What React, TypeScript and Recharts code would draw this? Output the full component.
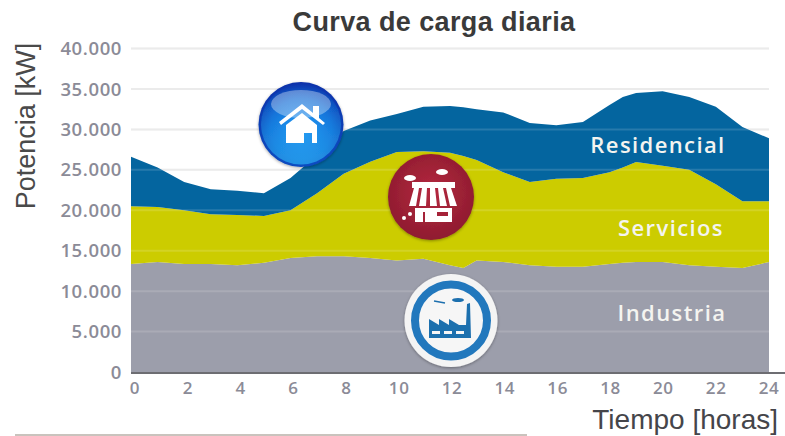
import React from "react";
import { AreaChart, Area, XAxis, YAxis, ReferenceLine, CartesianGrid } from "recharts";

const hours = [0,1,2,3,4,5,6,7,8,9,10,11,12,12.5,13,14,15,16,17,18,18.5,19,20,21,22,23,24];
const industria = [13350,13600,13350,13350,13200,13500,14100,14300,14300,14100,13800,14000,13200,12850,13800,13600,13200,13000,13000,13350,13500,13600,13600,13200,13000,12850,13600];
const servicios = [7150,6800,6650,6150,6200,5800,5900,7800,10200,11900,13400,13300,13900,13850,12400,11100,10300,10900,11000,11350,11800,12360,11900,11800,10200,8250,7500];
const residencial = [6100,4900,3500,3100,3000,2800,4000,4700,5300,5100,4700,5500,5800,6050,6300,7400,7300,6600,6900,8300,8700,8540,9200,9000,9600,9200,7800];
const yTicks = [0,5000,10000,15000,20000,25000,30000,35000,40000];
const xTicks = [0,2,4,6,8,10,12,14,16,18,20,22,24];
const data = hours.map((h,i)=>({h, industria:industria[i], servicios:servicios[i], residencial:residencial[i]}));
const fmt = (v:number)=> v===0 ? "0" : `${v/1000}.000`;
const yTickStyle = { fill:"#8b8b97", fontSize:18.5, fontWeight:600, fontFamily:"'Open Sans', sans-serif", letterSpacing:0.6 };
const serviceLabel = { fill:"#f4f4f0", fontSize:22, fontWeight:600, fontFamily:"'Open Sans', sans-serif", letterSpacing:1.4 };

function XTick(props:any) {
  const { x, y, payload } = props;
  const shift = 4 * (1 - payload.value / 24);
  return (
    <text x={x + shift} y={y} dy={14} textAnchor="middle" fill="#8b8b97" fontSize={17} fontWeight={600} fontFamily="'Open Sans', sans-serif" letterSpacing={0.6}>{payload.value}</text>
  );
}

function Overlay() {
  return (
    <svg width={785} height={436} style={{position:"absolute",left:0,top:0,pointerEvents:"none"}}>
      <defs>
        <radialGradient id="homeG" cx="50%" cy="55%" r="55%">
          <stop offset="0%" stopColor="#1f8cf0"/><stop offset="65%" stopColor="#0b5fd0"/><stop offset="100%" stopColor="#0a2fa8"/>
        </radialGradient>
        <linearGradient id="homeB" x1="0" y1="0" x2="0" y2="1">
          <stop offset="0%" stopColor="#2fc0ff" stopOpacity="0"/><stop offset="100%" stopColor="#38c8ff"/>
        </linearGradient>
        <radialGradient id="shopG" cx="50%" cy="45%" r="55%">
          <stop offset="0%" stopColor="#b5283f"/><stop offset="100%" stopColor="#8f1c30"/>
        </radialGradient>
        <filter id="sh" x="-20%" y="-20%" width="140%" height="140%">
          <feDropShadow dx={0} dy={1} stdDeviation={1.5} floodColor="#000" floodOpacity={0.35}/>
        </filter>
      </defs>
      <line x1={131} x2={785} y1={373} y2={373} stroke="#6d6d72" strokeWidth={2}/>
      <line x1={15} x2={527} y1={435} y2={435} stroke="#c9c3bd" strokeWidth={2}/>
      <text x={434} y={31} textAnchor="middle" fontFamily="'Liberation Sans', sans-serif" fontWeight={700} fontSize={27} letterSpacing={0.4} fill="#3a3a3a">Curva de carga diaria</text>
      <text x={778} y={429} textAnchor="end" fontFamily="'Liberation Sans', sans-serif" fontSize={28} fill="#45454a">Tiempo [horas]</text>
      <text transform="translate(35,126) rotate(-90)" textAnchor="middle" fontFamily="'Liberation Sans', sans-serif" fontSize={27} fill="#4a4a4a">Potencia [kW]</text>
      <text x={658} y={153} textAnchor="middle" {...serviceLabel}>Residencial</text>
      <text x={671} y={236} textAnchor="middle" {...serviceLabel}>Servicios</text>
      <text x={672} y={321} textAnchor="middle" {...serviceLabel}>Industria</text>

      <g filter="url(#sh)">
        <circle cx={301} cy={124.5} r={42.5} fill="url(#homeG)"/>
        <circle cx={301} cy={124.5} r={40} fill="url(#homeB)" opacity={0.55}/>
        <ellipse cx={301} cy={104} rx={30} ry={14} fill="#ffffff" opacity={0.35}/>
        <path d="M279 122 L302 104 L313 113 L313 106 L319 106 L319 118 L325 123 L323 125 L302 109 L281 125 Z" fill="#fff"/>
        <path d="M286 125 L302 113 L317 125 L317 143 L312 143 L312 133 L304 133 L304 143 L286 143 Z" fill="#fff"/>
      </g>
      <g filter="url(#sh)">
        <circle cx={431} cy={197} r={43} fill="url(#shopG)"/>
        <ellipse cx={410} cy={178} rx={6} ry={3} fill="#fff"/>
        <ellipse cx={442} cy={172} rx={6} ry={3} fill="#fff"/>
        <rect x={412} y={182} width={43} height={6} fill="#fff"/>
        <path d="M414 188 L409 206 L416 206 L419 188 Z M422 188 L419 206 L426 206 L427 188 Z M430 188 L430 206 L437 206 L435 188 Z M438 188 L440 206 L447 206 L443 188 Z M446 188 L450 206 L457 206 L451 188 Z" fill="#fff"/>
        <rect x={415} y={208} width={37} height={14} fill="#fff"/>
        <rect x={437} y={212} width={11} height={4} fill="#a52238"/>
        <rect x={423} y={212} width={2} height={10} fill="#a52238"/>
        <circle cx={404} cy={218} r={2} fill="#fff"/><circle cx={410} cy={214} r={2} fill="#fff"/>
      </g>
      <g filter="url(#sh)">
        <circle cx={451} cy={320.5} r={46.5} fill="#f4f4f4"/>
        <circle cx={451} cy={320.5} r={36} fill="#f6f6f6" stroke="#2378bd" strokeWidth={8}/>
        <path d="M429 338 L429 319 L439 325 L439 319 L449 325 L449 319 L459 325 L466 325 L467 304 L470 303 L471 338 Z" fill="#1f6fae"/>
        <rect x={432} y={331} width={8} height={3} fill="#f6f6f6"/>
        <rect x={444} y={331} width={8} height={3} fill="#f6f6f6"/>
        <rect x={456} y={331} width={8} height={3} fill="#f6f6f6"/>
        <ellipse cx={458} cy={300} rx={6} ry={2} fill="#1f6fae"/>
        <path d="M434 301 L445 303" stroke="#1f6fae" strokeWidth={1.5}/>
      </g>
    </svg>
  );
}

export default function App() {
  return (
    <div style={{position:"absolute",left:0,top:0,width:785,height:436,background:"#fff"}}>
      <AreaChart width={785} height={436} data={data} margin={{top:48.5,right:16,bottom:0,left:0}}>
        <CartesianGrid vertical={false} stroke="#e8e8e8" strokeWidth={2}/>
        <XAxis dataKey="h" type="number" domain={[0,24]} ticks={xTicks} axisLine={false} tickLine={false} tick={<XTick/>} interval={0} height={64}/>
        <YAxis type="number" domain={[0,40000]} ticks={yTicks} tickFormatter={fmt} axisLine={false} tickLine={false} tick={yTickStyle} width={131} tickMargin={3} interval={0}/>
        <Area dataKey="industria" stackId="a" type="linear" stroke="none" fill="#9c9eab" fillOpacity={1} isAnimationActive={false}/>
        <Area dataKey="servicios" stackId="a" type="linear" stroke="none" fill="#cccc00" fillOpacity={1} isAnimationActive={false}/>
        <Area dataKey="residencial" stackId="a" type="linear" stroke="none" fill="#04659f" fillOpacity={1} isAnimationActive={false}/>
        {yTicks.slice(1).map(v => <ReferenceLine key={v} y={v} stroke="#ffffff" strokeOpacity={0.14} strokeWidth={2}/>)}
      </AreaChart>
      <Overlay/>
    </div>
  );
}
